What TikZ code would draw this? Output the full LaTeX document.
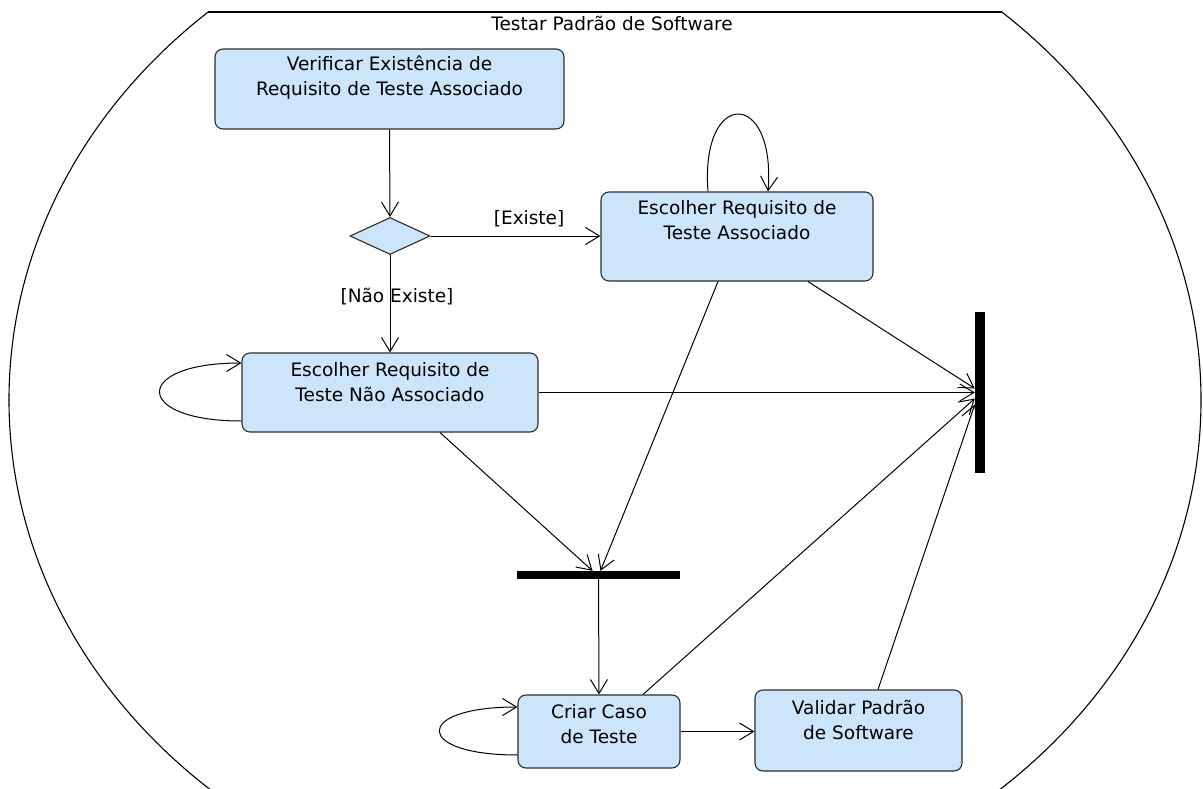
\documentclass[tikz,border=0pt]{standalone}
\usepackage{fontspec}
\setmainfont{DejaVu Sans}
\usepackage{tikz}
\usetikzlibrary{arrows.meta}
\usetikzlibrary{shapes.geometric}

\definecolor{actfill}{RGB}{204,229,250}
\definecolor{actline}{RGB}{45,45,45}

\tikzset{
  actbox/.style={draw=actline, fill=actfill, line width=1.1pt, rounded corners=8pt, inner sep=0pt, align=center},
  flow/.style={-{Straight Barb[length=14pt,width=17pt]}, line width=1pt},
  syncbar/.style={fill=black, inner sep=0pt},
}

\begin{document}
\begin{tikzpicture}[x=1pt, y=-1pt, font=\fontsize{18.5}{25}\selectfont]
    \useasboundingbox (0,0) rectangle (1203,789);
    % activity frame
    \begin{scope}
      \clip (0,12) rectangle (1203,789);
      \draw[line width=1.1pt] (605,400) ellipse (596pt and 520pt);
    \end{scope}
    \draw[line width=1.1pt] (208,12) -- (1002,12);
    \node (titulo) at (612,23) {Testar Padrão de Software};

    \node[actbox, minimum width=349pt, text height=46.6pt, text depth=33.4pt] (verifica) at (389.5,89) {Verificar Existência de\\Requisito de Teste Associado};
    \node[diamond, draw=actline, fill=actfill, line width=1.1pt, minimum width=80pt, minimum height=37pt, inner sep=0pt] (escolha) at (390,236) {};
    \node[actbox, minimum width=272pt, text height=47.6pt, text depth=41.4pt] (reqAssoc) at (737,236.5) {Escolher Requisito de\\Teste Associado};
    \node[actbox, minimum width=296pt, text height=48.6pt, text depth=30.4pt] (reqNaoAssoc) at (390,392.5) {Escolher Requisito de\\Teste Não Associado};
    \node[actbox, minimum width=162pt, text height=48.6pt, text depth=24.4pt] (criaCaso) at (599,731.5) {Criar Caso\\de Teste};
    \node[actbox, minimum width=207pt, text height=49.6pt, text depth=31.4pt] (validaPadrao) at (858.5,730.5) {Validar Padrão\\de Software};
    \node[syncbar, minimum width=10pt, minimum height=161pt] (barraV) at (980,392.5) {};
    \node[syncbar, minimum width=163pt, minimum height=8pt] (barraH) at (598.5,575) {};

    \draw[flow] (verifica.south) -- (escolha.north);
    \draw[flow] (escolha.east) -- node[above=5pt, pos=0.58] (rotExiste) {[Existe]} (escolha.east -| reqAssoc.west);
    \draw[flow] (escolha.south) -- node[pos=0.43, xshift=7pt] (rotNaoExiste) {[Não Existe]} (reqNaoAssoc.north);

    \draw[flow] ([xshift=-29pt]reqAssoc.north) .. controls +(-8,-103) and +(8,-103) .. ([xshift=31pt]reqAssoc.north);
    \draw[flow] ([yshift=-28.5pt]reqNaoAssoc.west) .. controls +(-109,0) and +(-109,0) .. ([yshift=29.5pt]reqNaoAssoc.west);
    \draw[flow] ([yshift=-23.5pt]criaCaso.west) .. controls +(-104,0) and +(-104,0) .. ([yshift=24.5pt]criaCaso.west);

    \draw[flow] ([xshift=50pt]reqNaoAssoc.south) -- ([xshift=-6pt]barraH.north);
    \draw[flow] ([xshift=-19pt]reqAssoc.south) -- ([xshift=2pt]barraH.north);
    \draw[flow] (barraH.south) -- (criaCaso.north);

    \draw[flow] ([xshift=71pt]reqAssoc.south) -- ([yshift=4pt]barraV.west);
    \draw[flow] (reqNaoAssoc.east) -- (barraV.west);
    \draw[flow] ([xshift=44pt]criaCaso.north) -- ([yshift=-6pt]barraV.west);
    \draw[flow] ([xshift=19.5pt]validaPadrao.north) -- ([yshift=-12pt]barraV.west);
    \draw[flow] (criaCaso.east) -- (criaCaso.east -| validaPadrao.west);
  \end{tikzpicture}
\end{document}
